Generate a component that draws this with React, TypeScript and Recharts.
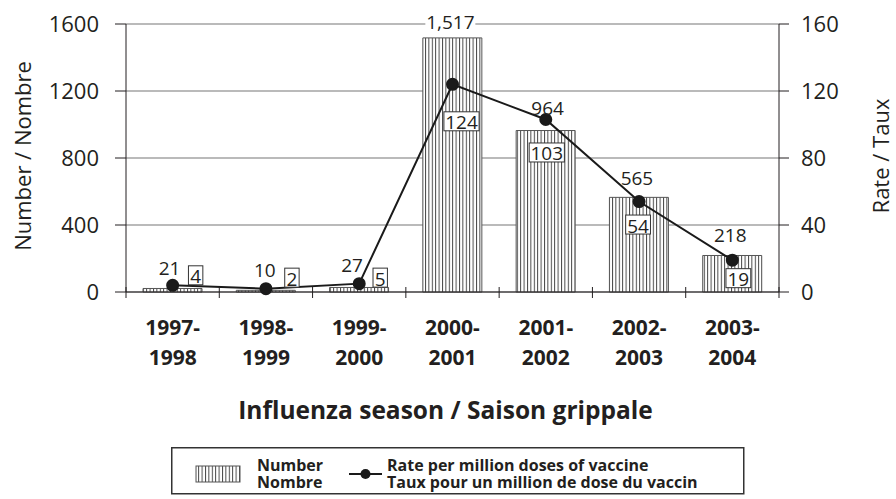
import React from "react";
import {
  ComposedChart,
  Bar,
  Line,
  XAxis,
  YAxis,
  CartesianGrid,
  LabelList,
} from "recharts";

const seasons = [
  "1997-1998",
  "1998-1999",
  "1999-2000",
  "2000-2001",
  "2001-2002",
  "2002-2003",
  "2003-2004",
];
const numberCases = [21, 10, 27, 1517, 964, 565, 218];
const ratePerMillion = [4, 2, 5, 124, 103, 54, 19];
const leftTicks = [0, 400, 800, 1200, 1600];
const rightTicks = [0, 40, 80, 120, 160];

const chartData = seasons.map((season, i) => ({
  season,
  cases: numberCases[i],
  rate: ratePerMillion[i],
}));

// layout
const CHART_W = 896;
const CHART_H = 499;
const MARGIN = { top: 24, right: 57, bottom: 127, left: 66 };
const AXIS_W = 60;
const BAND =
  (CHART_W - MARGIN.left - MARGIN.right - 2 * AXIS_W) / seasons.length;
const FONT = "'Open Sans', 'Noto Sans', sans-serif";
const INK = "#231f20";

// label placement was done by hand in the original, so keep per-bar nudges
const barLabelOffsets = [
  [-3, -20],
  [-1, -20],
  [-7, -22],
  [-2, -16],
  [2, -23],
  [-2, -19],
  [-2, -20],
];
const rateBoxOffsets = [
  [23, -10],
  [26, -11],
  [21, -6],
  [9, 37],
  [1, 33],
  [-1, 23],
  [6, 18],
];

const maxCases = Math.max(...numberCases);

const SeasonTick = (props: any) => {
  const { x, y, payload, index } = props;
  const [first, second] = String(payload.value).split("-");
  const lines = [x - BAND / 2];
  if (index === seasons.length - 1) lines.push(x + BAND / 2);
  const style = { fontSize: 21, fontWeight: 700, fill: INK, fontFamily: FONT };
  return (
    <g>
      {lines.map((lx, i) => (
        <line key={i} x1={lx} x2={lx} y1={y - 5} y2={y + 6} stroke={INK} strokeWidth={1} />
      ))}
      <text x={x} y={y + 43} textAnchor="middle" {...style}>
        {first + "-"}
      </text>
      <text x={x} y={y + 73} textAnchor="middle" {...style}>
        {second}
      </text>
    </g>
  );
};

const BarValueLabel = (props: any) => {
  const { x, y, width, value, index } = props;
  const [dx, dy] = barLabelOffsets[index] || [0, -19];
  const cx = x + width / 2 + dx;
  const cy = y + dy;
  const txt = Number(value).toLocaleString("en-US");
  return (
    <g>
      {value === maxCases && (
        <rect x={cx - 25} y={cy - 11} width={50} height={22} fill="#fff" />
      )}
      <text x={cx} y={cy} textAnchor="middle" dominantBaseline="central" fontSize={19} fill={INK} fontFamily={FONT}>
        {txt}
      </text>
    </g>
  );
};

const RateBoxLabel = (props: any) => {
  const { x, y, value, index } = props;
  const [dx, dy] = rateBoxOffsets[index] || [0, 20];
  const txt = String(value);
  const w = txt.length * 10.4 + 4;
  const h = 19;
  const cx = x + dx;
  const cy = y + dy;
  return (
    <g>
      <rect x={cx - w / 2} y={cy - h / 2} width={w} height={h} fill="#fff" stroke="#333" strokeWidth={1} />
      <text x={cx} y={cy + 1} textAnchor="middle" dominantBaseline="central" fontSize={19} fill={INK} fontFamily={FONT}>
        {txt}
      </text>
    </g>
  );
};

const AxisTitle = (props: any) => {
  const { viewBox, title, shiftX } = props;
  const cx = viewBox.x + shiftX;
  const cy = viewBox.y + viewBox.height / 2 - 2;
  return (
    <text
      x={cx}
      y={cy}
      transform={`rotate(-90, ${cx}, ${cy})`}
      textAnchor="middle"
      dominantBaseline="central"
      fontSize={22}
      fill={INK}
      fontFamily={FONT}
    >
      {title}
    </text>
  );
};

const XTitle = (props: any) => {
  const { viewBox } = props;
  return (
    <text
      x={viewBox.x + viewBox.width / 2 - 7}
      y={viewBox.y + 117}
      textAnchor="middle"
      dominantBaseline="central"
      fontSize={24.5}
      fontWeight={700}
      fill={INK}
      fontFamily={FONT}
    >
      Influenza season / Saison grippale
    </text>
  );
};

const LegendBox = () => {
  const txt = { fontSize: 16, fontWeight: 700, fill: INK, fontFamily: FONT };
  return (
    <svg width={574} height={48} style={{ position: "absolute", left: 171, top: 447 }}>
      <defs>
        <pattern id="legendStripes" patternUnits="userSpaceOnUse" width={3.4} height={4}>
          <rect width={3.4} height={4} fill="#fff" />
          <line x1={0.5} x2={0.5} y1={0} y2={4} stroke="#333" strokeWidth={0.9} />
        </pattern>
      </defs>
      <rect x={0.75} y={0.75} width={572} height={46} fill="#fff" stroke="#333" strokeWidth={1.5} />
      <rect x={25} y={19} width={44} height={16} fill="url(#legendStripes)" stroke="#555" strokeWidth={1} />
      <text x={86} y={18} dominantBaseline="central" {...txt}>Number</text>
      <text x={86} y={35} dominantBaseline="central" {...txt}>Nombre</text>
      <line x1={178} x2={211} y1={27} y2={27} stroke="#1a1a1a" strokeWidth={2} />
      <circle cx={194.5} cy={27} r={5} fill="#1a1a1a" />
      <text x={216} y={18} dominantBaseline="central" {...txt}>Rate per million doses of vaccine</text>
      <text x={216} y={35} dominantBaseline="central" {...txt}>Taux pour un million de dose du vaccin</text>
    </svg>
  );
};

export default function App() {
  return (
    <div style={{ position: "absolute", left: 0, top: 0, width: CHART_W, height: CHART_H, background: "#fff" }}>
      <ComposedChart width={CHART_W} height={CHART_H} data={chartData} margin={MARGIN}>
        <defs>
          <pattern id="stripes" patternUnits="userSpaceOnUse" width={3.4} height={4}>
            <rect width={3.4} height={4} fill="#fff" />
            <line x1={0.5} x2={0.5} y1={0} y2={4} stroke="#333" strokeWidth={0.9} />
          </pattern>
        </defs>
        <CartesianGrid yAxisId="left" vertical={false} stroke="#777" strokeWidth={1.2} />
        <XAxis
          dataKey="season"
          height={80}
          axisLine={{ stroke: INK, strokeWidth: 1 }}
          tickLine={false}
          tickSize={0}
          tickMargin={0}
          interval={0}
          tick={<SeasonTick />}
          label={<XTitle />}
        />
        <YAxis
          yAxisId="left"
          width={AXIS_W}
          domain={[0, 1600]}
          ticks={leftTicks}
          tickSize={11}
          tickMargin={16}
          axisLine={{ stroke: INK }}
          tickLine={{ stroke: INK }}
          tick={{ fill: INK, fontSize: 22, fontFamily: FONT }}
          label={<AxisTitle title="Number / Nombre" shiftX={-44} />}
        />
        <YAxis
          yAxisId="right"
          orientation="right"
          width={AXIS_W}
          domain={[0, 160]}
          ticks={rightTicks}
          tickSize={10}
          tickMargin={12}
          axisLine={{ stroke: INK }}
          tickLine={{ stroke: INK }}
          tick={{ fill: INK, fontSize: 22, fontFamily: FONT }}
          label={<AxisTitle title="Rate / Taux" shiftX={101} />}
        />
        <Bar
          yAxisId="left"
          dataKey="cases"
          barSize={59}
          fill="url(#stripes)"
          stroke="#555"
          strokeWidth={1}
          isAnimationActive={false}
        >
          <LabelList dataKey="cases" content={<BarValueLabel />} />
        </Bar>
        <Line
          yAxisId="right"
          type="linear"
          dataKey="rate"
          stroke="#1a1a1a"
          strokeWidth={2}
          dot={{ r: 5.5, fill: "#1a1a1a", stroke: "#1a1a1a" }}
          isAnimationActive={false}
        >
          <LabelList dataKey="rate" content={<RateBoxLabel />} />
        </Line>
      </ComposedChart>
      <LegendBox />
    </div>
  );
}
